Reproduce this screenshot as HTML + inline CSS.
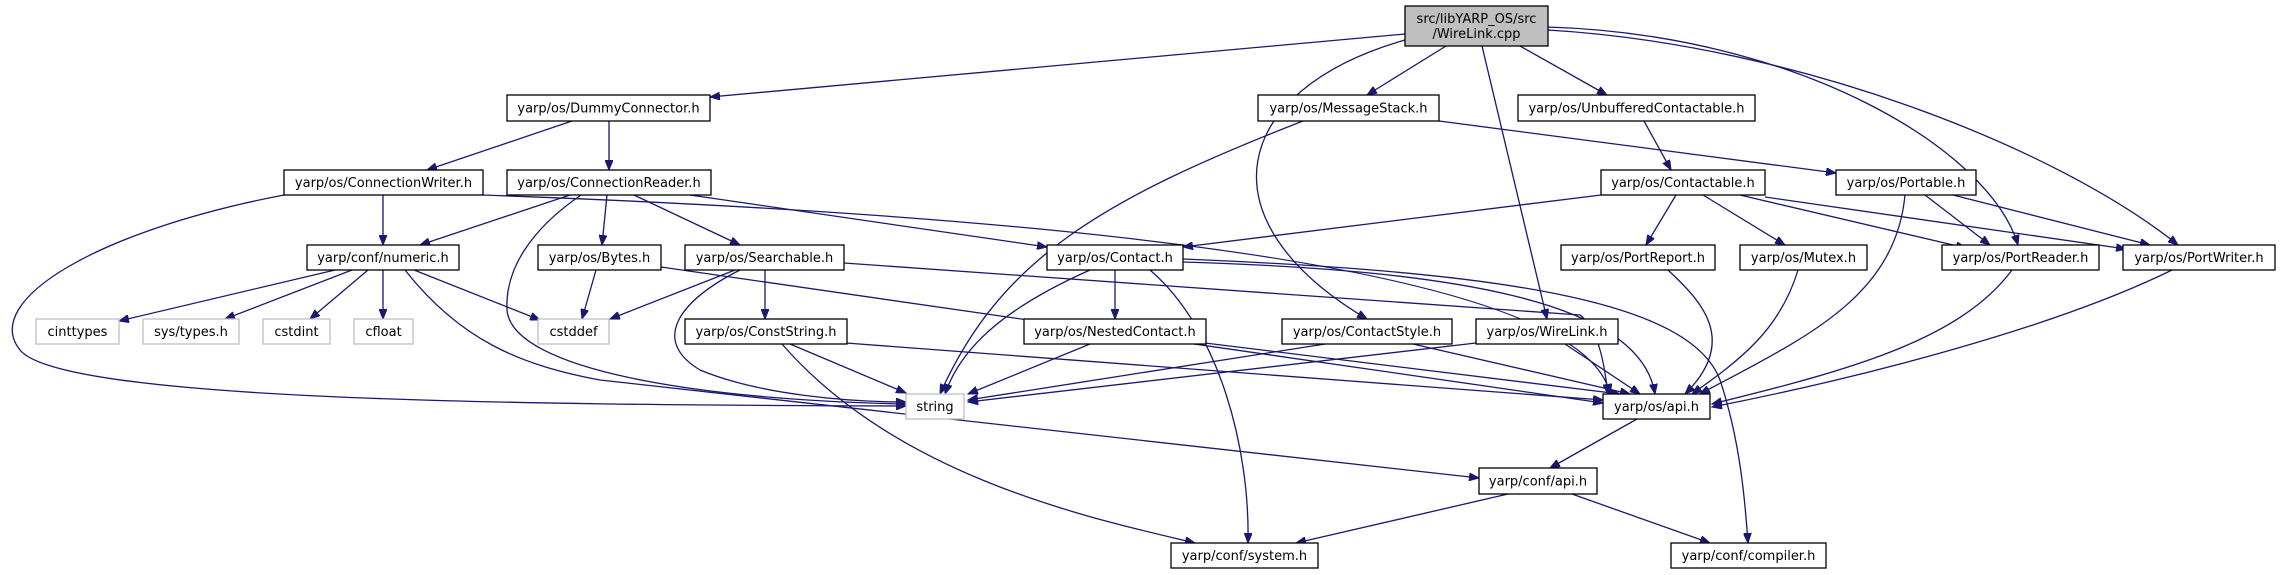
<!DOCTYPE html>
<html><head><meta charset="utf-8">
<style>
html,body{margin:0;padding:0;background:#fff;}
svg{display:block;}
text{font-family:"DejaVu Sans","Liberation Sans",sans-serif;font-size:13px;fill:#000;}
</style></head>
<body>
<svg id="g" width="2280" height="575" viewBox="0 0 2280 575" xmlns="http://www.w3.org/2000/svg">
<defs>
<marker id="ah" markerWidth="11" markerHeight="8" refX="10" refY="4" orient="auto" markerUnits="userSpaceOnUse">
<path d="M0,0 L10,4 L0,8 Z" fill="#191970" stroke="#191970"/>
</marker>
</defs>
<g id="edges"></g>
<g id="nodes"></g>
</svg>
<script>
// nodes: [label, x1, x2, y1, y2, kind]  kind: 0 normal, 1 system(gray border), 2 root
const nodeLabels = ["src/libYARP_OS/src\n/WireLink.cpp","yarp/os/DummyConnector.h","yarp/os/MessageStack.h","yarp/os/UnbufferedContactable.h","yarp/os/ConnectionWriter.h","yarp/os/ConnectionReader.h","yarp/os/Contactable.h","yarp/os/Portable.h","yarp/conf/numeric.h","yarp/os/Bytes.h","yarp/os/Searchable.h","yarp/os/Contact.h","yarp/os/PortReport.h","yarp/os/Mutex.h","yarp/os/PortReader.h","yarp/os/PortWriter.h","cinttypes","sys/types.h","cstdint","cfloat","cstddef","yarp/os/ConstString.h","yarp/os/NestedContact.h","yarp/os/ContactStyle.h","yarp/os/WireLink.h","string","yarp/os/api.h","yarp/conf/api.h","yarp/conf/system.h","yarp/conf/compiler.h"];
const nodeNames = ["root-wirelink-cpp","dummyconnector-h","messagestack-h","unbufferedcontactable-h","connectionwriter-h","connectionreader-h","contactable-h","portable-h","conf-numeric-h","bytes-h","searchable-h","contact-h","portreport-h","mutex-h","portreader-h","portwriter-h","cinttypes","sys-types-h","cstdint","cfloat","cstddef","conststring-h","nestedcontact-h","contactstyle-h","os-wirelink-h","string","os-api-h","conf-api-h","conf-system-h","conf-compiler-h"];
const nodeBoxes = [[1405,1548,6,46,2],[507,710,95,121,0],[1258,1439,95,121,0],[1518,1755,95,121,0],[284,483,170,195,0],[507,711,170,195,0],[1601,1765,170,195,0],[1836,1976,170,195,0],[307,459,245,270,0],[538,661,245,270,0],[685,844,245,270,0],[1047,1183,245,270,0],[1561,1715,245,270,0],[1740,1867,245,270,0],[1942,2099,245,270,0],[2123,2275,245,270,0],[36,119,319,344,1],[143,239,319,344,1],[263,330,319,344,1],[354,413,319,344,1],[538,609,319,344,1],[685,847,319,344,0],[1024,1206,319,344,0],[1282,1452,319,344,0],[1476,1618,319,344,0],[906,964,394,419,1],[1603,1710,394,419,0],[1479,1597,468,494,0],[1171,1318,543,568,0],[1671,1826,543,568,0]];
const edgePaths = [
"M1405,34 L710,97","M1446,46 L1367,95","M1520,46 L1607,95",
"M1405,40 C1230,90 1200,220 1367,319","M1482,46 L1547,319",
"M1548,27 C1800,35 1990,150 2018,245","M1548,30 C1800,45 2060,150 2178,245",
"M572,121 L427,170","M609,121 L609,170","M383,195 L383,245",
"M284,195 C100,230 -20,300 20,350 C60,400 500,405 906,406",
"M483,195 C900,210 1580,250 1610,394",
"M570,195 L420,245","M607,195 L602,245","M634,195 L740,245","M690,195 L1047,247",
"M581,195 C530,230 505,270 507,310 C512,370 700,400 906,404",
"M405,270 C460,340 520,365 600,380 L1479,478",
"M596,270 L582,319","M335,270 L119,321","M352,270 L225,319","M368,270 L310,319","M383,270 L383,319","M414,270 L540,320",
"M735,270 L610,319","M765,270 L765,319",
"M740,270 C680,300 650,340 700,370 C760,395 850,402 906,402",
"M844,263 L1580,315 C1600,330 1605,370 1608,394",
"M661,267 L1603,403",
"M790,344 L906,393","M782,344 C900,480 1100,520 1195,543","M846,343 L1603,400",
"M1115,270 L1115,319","M1090,270 C1000,310 960,350 945,394",
"M1303,121 C1100,200 1000,260 940,394",
"M1150,270 C1220,330 1250,450 1248,543",
"M1183,262 C1450,270 1640,300 1655,394",
"M1183,259 C1500,272 1690,300 1720,380 C1740,440 1745,500 1748,543",
"M1090,344 L968,394","M1205,343 L1620,394","M1325,344 L968,400","M1413,344 L1630,394",
"M1476,343 L968,402","M1565,344 L1640,394",
"M1439,121 L1836,173","M1644,121 L1671,170",
"M1601,195 L1183,247","M1676,195 L1646,245","M1703,195 L1785,245","M1740,195 L1966,248","M1765,197 L2126,249",
"M1925,195 L1990,245","M1953,195 L2150,245",
"M1905,195 C1895,300 1800,340 1700,394",
"M1668,270 C1700,300 1740,340 1685,394",
"M1798,270 C1780,330 1740,360 1692,394",
"M2012,270 C1960,340 1850,370 1712,404",
"M2172,270 C2050,330 1850,380 1712,407",
"M1637,419 L1550,468","M1508,494 L1296,543","M1572,494 L1710,543"
];
const NS="http://www.w3.org/2000/svg";
const eg=document.getElementById('edges');
edgePaths.forEach(function(d){
  const p=document.createElementNS(NS,'path');
  p.setAttribute('d',d);
  p.setAttribute('fill','none');
  p.setAttribute('stroke','#191970');
  p.setAttribute('stroke-width','1.3');
  p.setAttribute('marker-end','url(#ah)');
  
  
  eg.appendChild(p);
});
const ng=document.getElementById('nodes');
nodeBoxes.forEach(function(b,i){
  const g=document.createElementNS(NS,'g');
  
  
  const r=document.createElementNS(NS,'rect');
  r.setAttribute('x',b[0]);r.setAttribute('y',b[2]);
  r.setAttribute('width',b[1]-b[0]);r.setAttribute('height',b[3]-b[2]);
  r.setAttribute('fill',b[4]===2?'#bfbfbf':'#ffffff');
  r.setAttribute('stroke',b[4]===1?'#bfbfbf':'#000000');
  r.setAttribute('stroke-width','1.3');
  g.appendChild(r);
  const lines=nodeLabels[i].split('\n');
  const cx=(b[0]+b[1])/2, cy=(b[2]+b[3])/2;
  lines.forEach(function(s,k){
    const t=document.createElementNS(NS,'text');
    t.setAttribute('x',cx);
    t.setAttribute('y',cy+4.5+(k-(lines.length-1)/2)*15);
    t.setAttribute('text-anchor','middle');
    t.textContent=s;
    
    
    g.appendChild(t);
  });
  ng.appendChild(g);
});
</script>
</body></html>
